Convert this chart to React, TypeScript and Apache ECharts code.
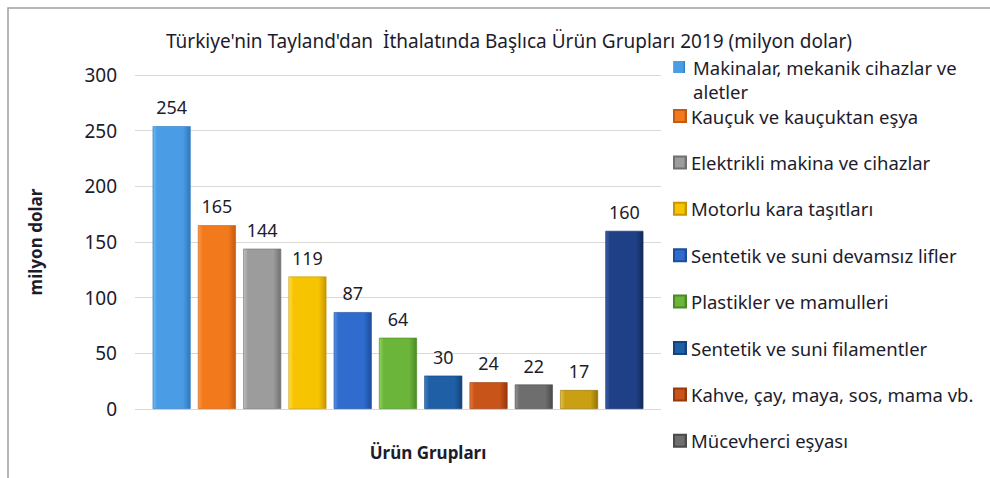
import React, { useEffect, useRef } from "react";
import * as echarts from "echarts";

const titleText = "Türkiye'nin Tayland'dan  İthalatında Başlıca Ürün Grupları 2019 (milyon dolar)";
const groupNames = [
  "Makinalar, mekanik cihazlar ve aletler",
  "Kauçuk ve kauçuktan eşya",
  "Elektrikli makina ve cihazlar",
  "Motorlu kara taşıtları",
  "Sentetik ve suni devamsız lifler",
  "Plastikler ve mamulleri",
  "Sentetik ve suni filamentler",
  "Kahve, çay, maya, sos, mama vb.",
  "Mücevherci eşyası",
  "Grup 10",
  "Diğer",
];
const firstLegendLines = ["Makinalar, mekanik cihazlar ve", "aletler"];
const legendNames = groupNames.slice(1, 9);
const values = [254, 165, 144, 119, 87, 64, 30, 24, 22, 17, 160];
const barColors = [
  ["#6bb8f2", "#4a9de4", "#2f78c0"],
  ["#ff9a45", "#f27a1c", "#c45a10"],
  ["#bdbdbd", "#9c9c9c", "#707070"],
  ["#ffe04a", "#f6c400", "#c79600"],
  ["#5a90e6", "#2f6ccd", "#1d4c9a"],
  ["#8fd45a", "#6ab53a", "#4a8a24"],
  ["#3f80c8", "#1f5fa6", "#14437a"],
  ["#e87a3a", "#c9541a", "#95380c"],
  ["#929292", "#6e6e6e", "#4a4a4a"],
  ["#e8c040", "#c9a012", "#94740a"],
  ["#3a5ea8", "#1f3f86", "#142a5c"],
];
const yTicks = { min: 0, max: 300, interval: 50 };

const FONT = "'Noto Sans', 'DejaVu Sans', sans-serif";
const TXT = "#1c1c2c";

function grad(c: string[]) {
  return new echarts.graphic.LinearGradient(0, 0, 1, 0, [
    { offset: 0, color: c[0] },
    { offset: 0.12, color: c[1] },
    { offset: 0.8, color: c[1] },
    { offset: 1, color: c[2] },
  ]);
}

export default function App() {
  const ref = useRef<HTMLDivElement>(null);
  useEffect(() => {
    document.body.style.margin = "0";
    if (!ref.current) return;
    const chart = echarts.init(ref.current, undefined, { renderer: "svg" });
    const series = values.map((v, i) => ({
      name: groupNames[i],
      type: "bar",
      stack: "all",
      xAxisIndex: 0,
      yAxisIndex: 0,
      barWidth: 38,
      data: values.map((_, j) => (j === i ? v : "-")),
      itemStyle: { color: grad(barColors[i]), borderColor: barColors[i][2], borderWidth: 0.6 },
      label: {
        show: true,
        position: "top",
        distance: 10,
        color: TXT,
        fontFamily: FONT,
        fontSize: 18,
      },
    }));
    chart.setOption({
      animation: false,
      backgroundColor: "#ffffff",
      title: {
        text: titleText,
        left: 504,
        top: 26,
        textAlign: "center",
        textStyle: { fontFamily: FONT, fontSize: 19, fontWeight: "normal", color: TXT },
      },
      legend: {
        orient: "vertical",
        left: 673,
        top: 106,
        padding: 0,
        data: legendNames,
        icon: "rect",
        itemWidth: 12,
        itemHeight: 12,
        itemGap: 26.4,
        itemTextGap: 8,
        selectedMode: false,
        textStyle: { fontFamily: FONT, fontSize: 18.5, color: TXT, lineHeight: 20 },
      },
      grid: [
        { left: 149, right: 343, top: 75, bottom: 478 - 409 },
        { left: 135, right: 329, top: 75, bottom: 478 - 409 },
      ],
      xAxis: [
        {
          type: "category",
          gridIndex: 0,
          data: groupNames,
          axisLine: { show: false },
          axisTick: { show: false },
          axisLabel: { show: false },
        },
        { type: "category", gridIndex: 1, data: [""], show: false },
      ],
      yAxis: [
        { type: "value", gridIndex: 0, ...yTicks, show: false },
        {
          type: "value",
          gridIndex: 1,
          ...yTicks,
          name: "milyon dolar",
          nameLocation: "middle",
          nameRotate: 90,
          nameGap: 91,
          nameTextStyle: { fontFamily: FONT, fontSize: 17, fontWeight: "bold", color: TXT },
          axisLine: { show: false },
          axisTick: { show: false },
          axisLabel: { margin: 18, fontFamily: FONT, fontSize: 19, color: TXT },
          splitLine: { lineStyle: { color: "#d9d9d9", width: 1 } },
        },
      ],
      graphic: [
        {
          type: "rect",
          shape: { x: 8, y: 8, width: 1000, height: 490 },
          style: { fill: "none", stroke: "#a0a0a0", lineWidth: 1.5 },
          silent: true,
        },
        {
          type: "rect",
          shape: { x: 673, y: 61, width: 12, height: 12 },
          style: { fill: grad(barColors[0]) },
        },
        {
          type: "text",
          x: 693,
          y: 55,
          style: {
            text: firstLegendLines.join("\n"),
            fontFamily: FONT,
            fontSize: 18.5,
            lineHeight: 24,
            fill: TXT,
            textVerticalAlign: "top",
          },
        },
        {
          type: "text",
          x: 428,
          y: 452,
          style: {
            text: "Ürün Grupları",
            fontFamily: FONT,
            fontSize: 17,
            fontWeight: "bold",
            fill: TXT,
            textAlign: "center",
            textVerticalAlign: "middle",
          },
        },
      ],
      series,
    });
    return () => chart.dispose();
  }, []);
  return <div ref={ref} style={{ width: 990, height: 478 }} />;
}
